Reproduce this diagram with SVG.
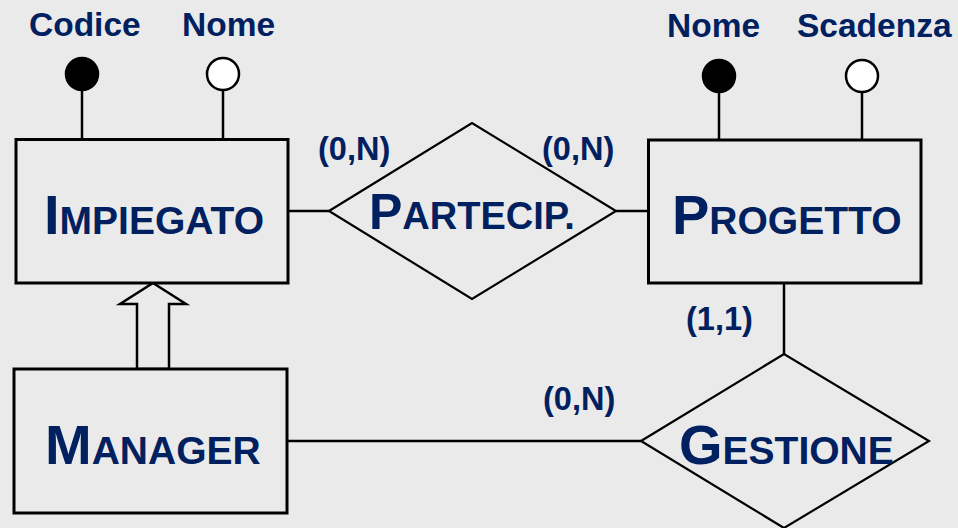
<svg xmlns="http://www.w3.org/2000/svg" width="958" height="528" viewBox="0 0 958 528">
<style>
.ln{stroke:#000;stroke-width:2.5;fill:none}
.box{stroke:#000;stroke-width:3;fill:#EAEAEA}
.dia{stroke:#000;stroke-width:2.2;fill:#EAEAEA}
.t{font-family:"Liberation Sans",Arial,sans-serif;font-weight:bold;fill:#002060}
.attr{font-size:33.5px}
.card{font-size:32.5px}
.big{font-size:56px}
.sm{font-size:39px}
.rbig{font-size:50px}
.rsm{font-size:38px}
</style>
<rect width="958" height="528" fill="#EAEAEA"/>
<g id="connectors">
<line class="ln" x1="82" y1="90" x2="82" y2="140"/>
<line class="ln" x1="223" y1="90" x2="223" y2="140"/>
<line class="ln" x1="719" y1="92" x2="719" y2="140"/>
<line class="ln" x1="862" y1="92" x2="862" y2="140"/>
<line class="ln" x1="288" y1="211" x2="329" y2="211"/>
<line class="ln" x1="616" y1="211" x2="649" y2="211"/>
<line class="ln" x1="784" y1="283" x2="784" y2="354"/>
<line class="ln" x1="287" y1="441" x2="641" y2="441"/>
<polygon points="153,283 186,304 169,304 169,369 137,369 137,304 120,304" fill="#EAEAEA" stroke="#000" stroke-width="2.5"/>
</g>
<g id="attr-codice">
<circle cx="82" cy="74" r="16" fill="#000" stroke="#000" stroke-width="2.5"/>
<text class="t attr" x="29" y="36">Codice</text>
</g>
<g id="attr-nome-imp">
<circle cx="223" cy="74" r="16" fill="#fff" stroke="#000" stroke-width="2.5"/>
<text class="t attr" x="182" y="36">Nome</text>
</g>
<g id="attr-nome-prog">
<circle cx="719" cy="76" r="16" fill="#000" stroke="#000" stroke-width="2.5"/>
<text class="t attr" x="667" y="37">Nome</text>
</g>
<g id="attr-scadenza">
<circle cx="862" cy="76" r="16" fill="#fff" stroke="#000" stroke-width="2.5"/>
<text class="t attr" x="797" y="37">Scadenza</text>
</g>
<g id="impiegato">
<rect class="box" x="16" y="139.5" width="272" height="143.5"/>
<text class="t" x="44" y="234"><tspan class="big">I</tspan><tspan class="sm">MPIEGATO</tspan></text>
</g>
<g id="progetto">
<rect class="box" x="648.5" y="140" width="272.5" height="143"/>
<text class="t" x="672" y="234"><tspan class="big">P</tspan><tspan class="sm">ROGETTO</tspan></text>
</g>
<g id="manager">
<rect class="box" x="14" y="369" width="273" height="144"/>
<text class="t" x="45" y="464"><tspan class="big">M</tspan><tspan class="sm">ANAGER</tspan></text>
</g>
<g id="partecip">
<polygon class="dia" points="329,211 472,123 616,211 472,299"/>
<text class="t" x="369" y="229"><tspan class="rbig">P</tspan><tspan class="rsm">ARTECIP.</tspan></text>
</g>
<g id="gestione">
<polygon class="dia" points="641,441 784,354 929,441 784,528"/>
<text class="t" x="679" y="464"><tspan class="big">G</tspan><tspan class="sm">ESTIONE</tspan></text>
</g>
<g id="cardinalities">
<text class="t card" x="318" y="160">(0,N)</text>
<text class="t card" x="542" y="160">(0,N)</text>
<text class="t card" x="686" y="330">(1,1)</text>
<text class="t card" x="543" y="410">(0,N)</text>
</g>
</svg>
